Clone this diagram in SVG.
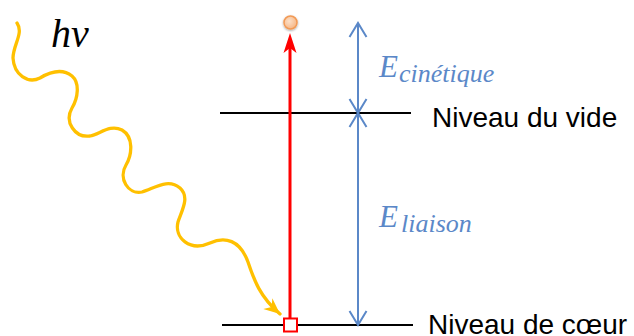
<svg xmlns="http://www.w3.org/2000/svg" width="634" height="336" viewBox="0 0 634 336">
<style>
.lvl{stroke:#000;stroke-width:2;fill:none}
.lbl{font-family:"Liberation Sans",Arial,sans-serif;font-size:28px;fill:#000}
.math{font-family:"Liberation Serif","DejaVu Serif",serif;font-style:italic}
.blue{fill:#5B88C8}
.dim{stroke:#5B88C8;stroke-width:2;fill:none;marker-start:url(#chev);marker-end:url(#chev)}
</style>
<defs>
<marker id="chev" markerUnits="userSpaceOnUse" markerWidth="20" markerHeight="22" viewBox="-16 -11 18 22" refX="0" refY="0" orient="auto-start-reverse">
<path d="M-14,-8.5 L0,0 L-14,8.5" fill="none" stroke="#5B88C8" stroke-width="2"/>
</marker>
<marker id="gold" markerUnits="userSpaceOnUse" markerWidth="22" markerHeight="20" viewBox="-18 -10 20 20" refX="0" refY="0" orient="auto">
<path d="M0,0 L-16,-7 L-11,0 L-16,7 Z" fill="#FFC000"/>
</marker>
<radialGradient id="ball" cx="0.4" cy="0.4" r="0.6">
<stop offset="0" stop-color="#FCE0C8"/>
<stop offset="1" stop-color="#F7B888"/>
</radialGradient>
<filter id="sh" x="-50%" y="-50%" width="200%" height="200%">
<feGaussianBlur in="SourceAlpha" stdDeviation="1.2"/>
<feOffset dx="0" dy="1" result="b"/>
<feFlood flood-color="#000" flood-opacity="0.35"/>
<feComposite in2="b" operator="in"/>
<feMerge><feMergeNode/><feMergeNode in="SourceGraphic"/></feMerge>
</filter>
</defs>

<g id="levels">
<line id="vide-line" class="lvl" x1="220" y1="113" x2="411" y2="113"/>
<line id="coeur-line" class="lvl" x1="222" y1="325" x2="413" y2="325"/>
</g>

<g id="connectors">
<path id="photon" d="M17,23 C24,33 13,45 13,58 C14,75 28,84 40,78 C50,72 62,68 72,76 C80,83 78,98 72,108 C64,122 75,138 90,136 C100,134 110,124 122,130 C134,137 132,155 126,165 C118,178 128,195 142,192 C155,188 168,178 180,188 C190,197 182,210 178,222 C174,238 190,252 210,243 C225,236 240,240 248,262 C254,280 260,297 280,314" fill="none" stroke="#FFC000" stroke-width="3.3" stroke-linecap="round" marker-end="url(#gold)"/>
<line id="emission" x1="290" y1="318" x2="290" y2="45" stroke="#FF0000" stroke-width="3"/>
<path d="M290,33 L296.5,53 L290,48 L283.5,53 Z" fill="#FF0000"/>
<line id="dim-cin" class="dim" x1="358" y1="23" x2="358" y2="113"/>
<line id="dim-liai" class="dim" x1="358" y1="113" x2="358" y2="325"/>
</g>

<g id="electron">
<circle cx="290.5" cy="22.5" r="6.5" fill="url(#ball)" stroke="#F29A55" stroke-width="1.5" filter="url(#sh)"/>
</g>

<g id="hole">
<rect x="284" y="318.5" width="13" height="13" fill="#fff" stroke="#FF0000" stroke-width="2"/>
</g>

<g id="hv">
<text x="51" y="47" class="math" font-size="40" fill="#000">hν</text>
</g>

<g id="e-cin">
<text x="379" y="77" class="math blue" font-size="31">E</text>
<text x="399" y="82" class="math blue" font-size="26">cinétique</text>
</g>

<g id="e-liai">
<text x="379" y="227" class="math blue" font-size="31">E</text>
<text x="401" y="232" class="math blue" font-size="26">liaison</text>
</g>

<g id="vide">
<text x="432" y="127" class="lbl">Niveau du vide</text>
</g>
<g id="coeur">
<text x="428" y="334" class="lbl">Niveau de cœur</text>
</g>
</svg>
